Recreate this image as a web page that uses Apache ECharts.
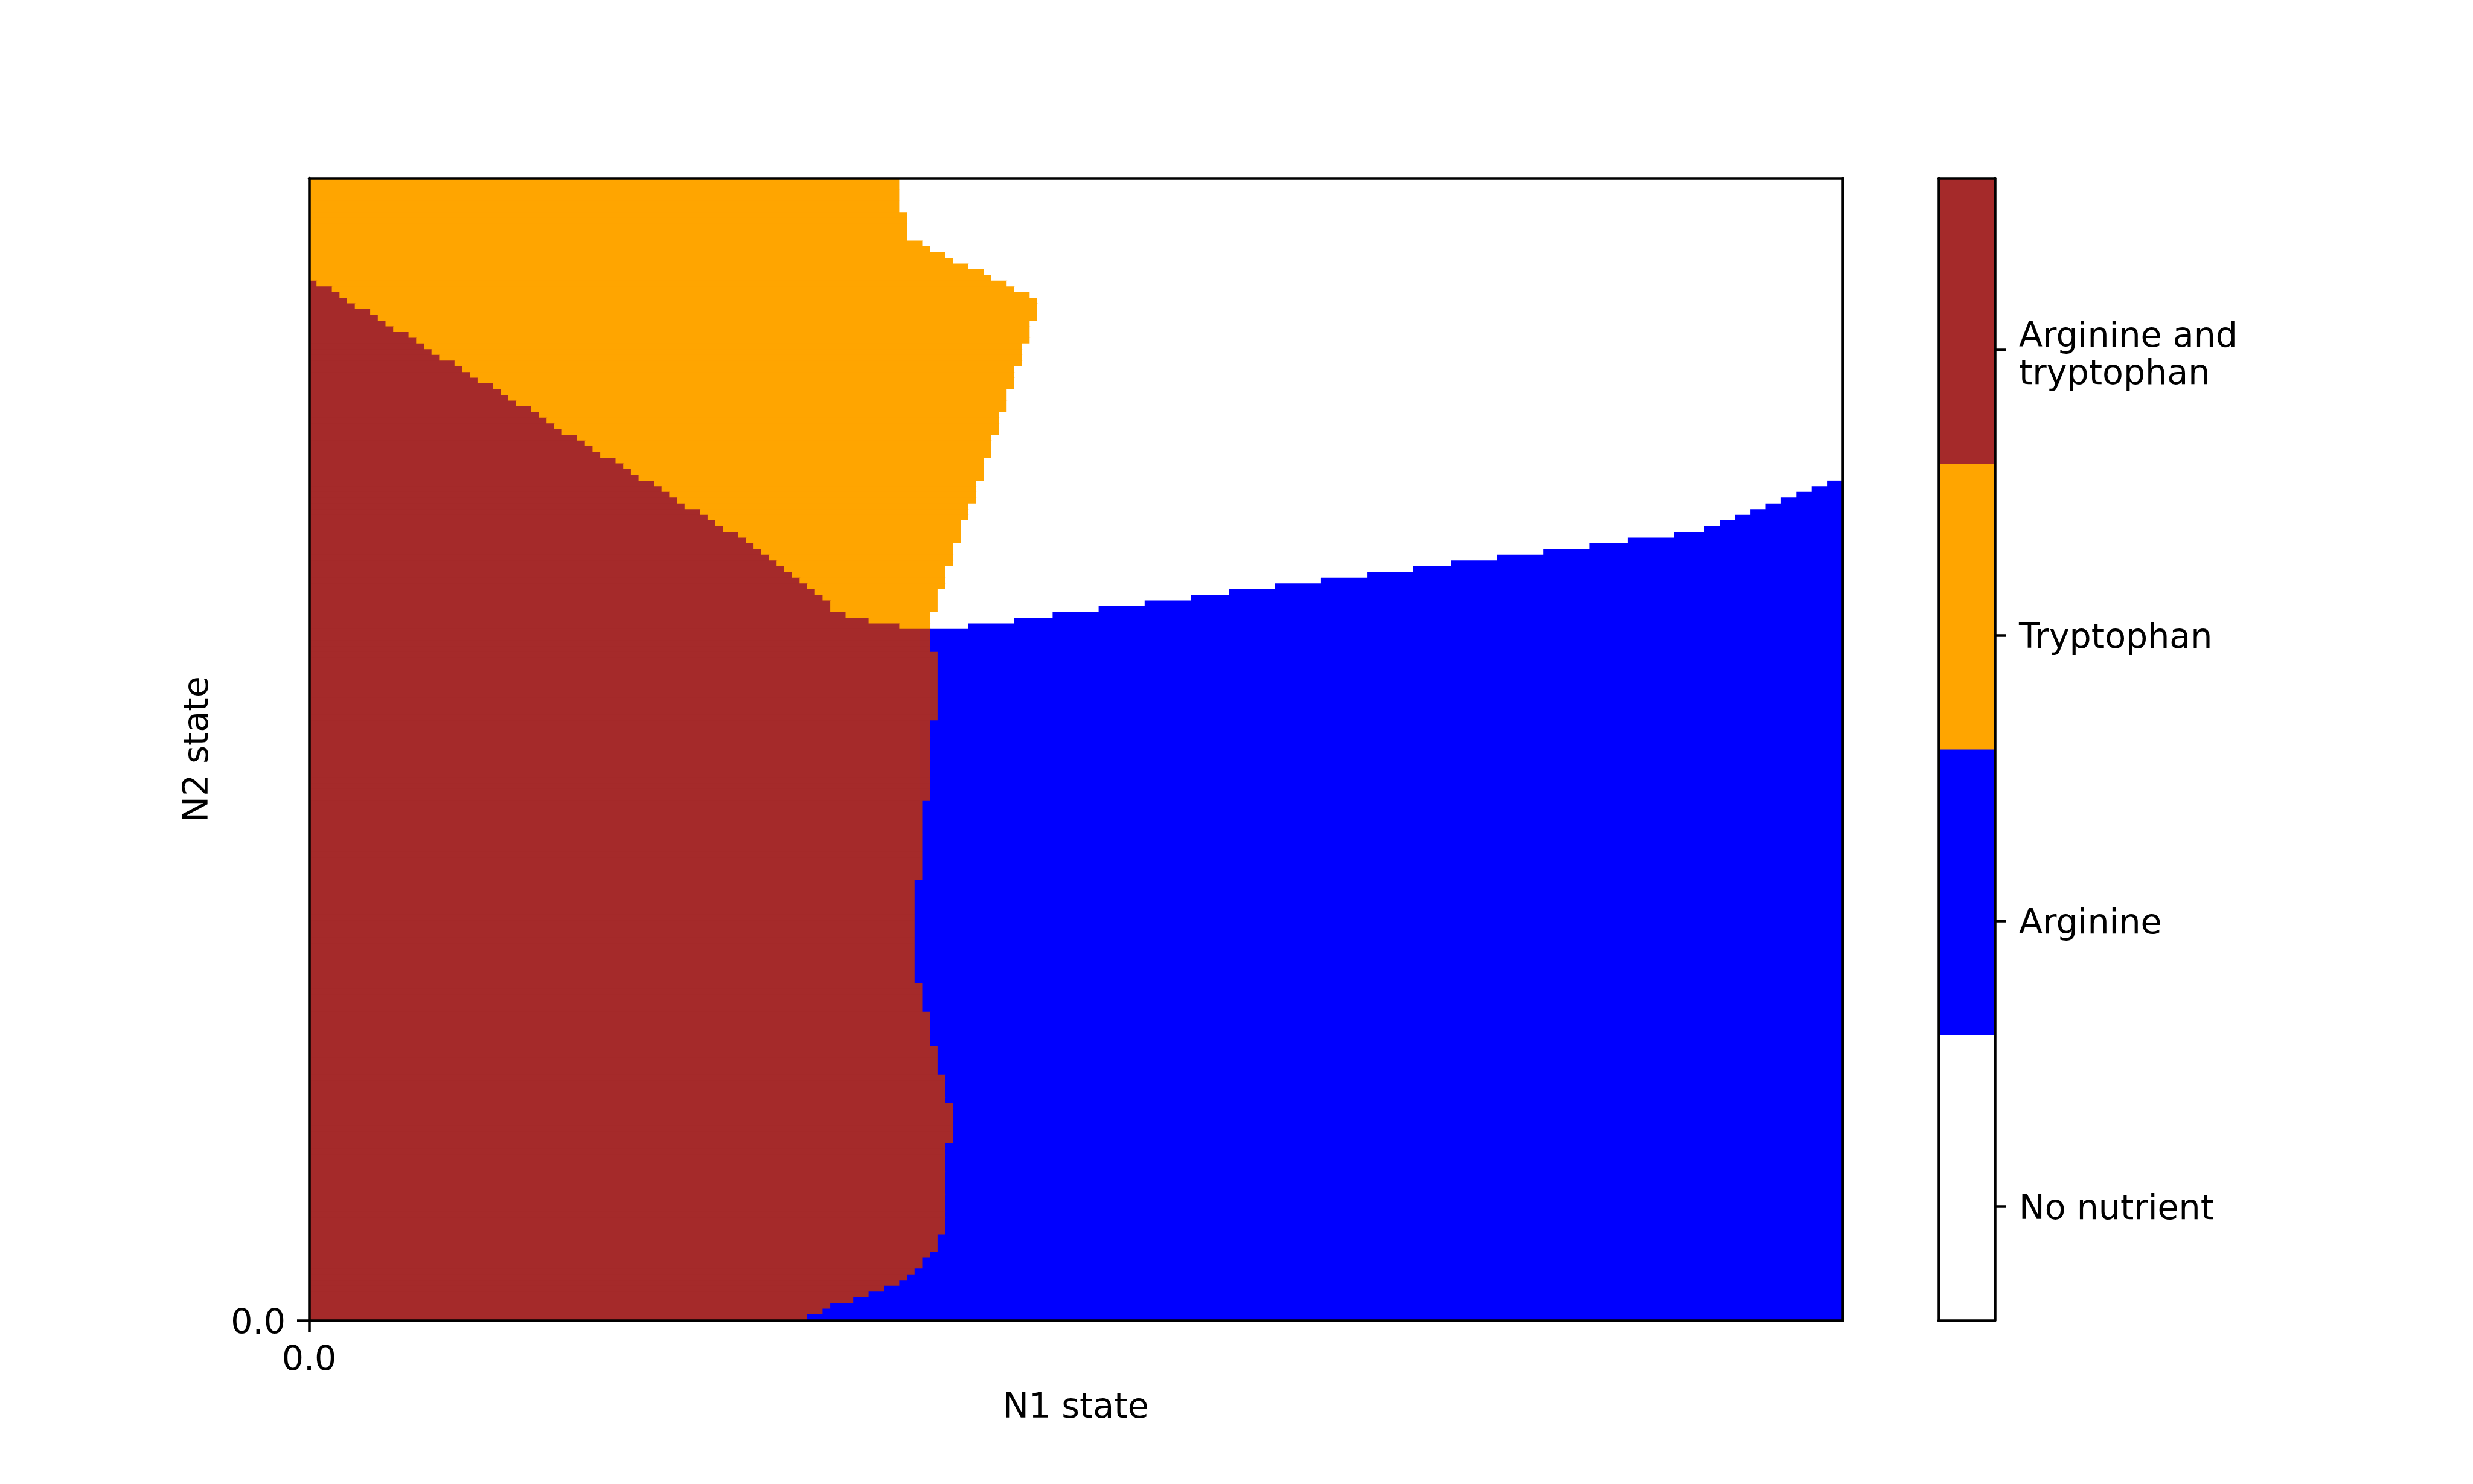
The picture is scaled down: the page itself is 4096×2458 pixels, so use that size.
<!DOCTYPE html>
<html>
<head>
<meta charset="utf-8">
<script src="https://cdn.jsdelivr.net/npm/echarts@6/dist/echarts.min.js"></script>
<style>
  html, body { margin: 0; padding: 0; background: #ffffff; }
  #chart { width: 4096px; height: 2458px; }
</style>
</head>
<body>
<div id="chart"></div>
<script>
// ---------------- data ----------------
// grid of states: 200 columns (N1) x 200 rows (N2); rows counted from the TOP (row 0 = highest N2)
const nCols = 200;
const nRows = 200;

// outcome categories (colour bar, bottom to top)
const categories = ['No nutrient', 'Arginine', 'Tryptophan', 'Arginine and\ntryptophan'];
const categoryColors = ['#ffffff', '#0000ff', '#ffa500', '#a52a2a'];
// colour-bar tick positions (segment i spans [i, i+1])
const colorbarTickValues = [0.4, 1.4, 2.4, 3.4];

// axis ticks
const xTickValues = [0];
const xTickLabels = ['0.0'];
const yTickValues = [0];
const yTickLabels = ['0.0'];

// brown ("Arginine and tryptophan") region: for rows [first, last], columns < value are brown
const brownEndRuns = [
  [0, 17, 0], [18, 18, 1], [19, 19, 3], [20, 20, 4], [21, 21, 5], [22, 22, 6], [23, 23, 8],
  [24, 24, 9], [25, 25, 10], [26, 26, 11], [27, 27, 13], [28, 28, 14], [29, 29, 15], [30, 30, 16],
  [31, 31, 17], [32, 32, 19], [33, 33, 20], [34, 34, 21], [35, 35, 22], [36, 36, 24], [37, 37, 25],
  [38, 38, 26], [39, 39, 27], [40, 40, 29], [41, 41, 30], [42, 42, 31], [43, 43, 32], [44, 44, 33],
  [45, 45, 35], [46, 46, 36], [47, 47, 37], [48, 48, 38], [49, 49, 40], [50, 50, 41], [51, 51, 42],
  [52, 52, 43], [53, 53, 45], [54, 54, 46], [55, 55, 47], [56, 56, 48], [57, 57, 49], [58, 58, 51],
  [59, 59, 52], [60, 60, 53], [61, 61, 54], [62, 62, 56], [63, 63, 57], [64, 64, 58], [65, 65, 59],
  [66, 66, 60], [67, 67, 61], [68, 68, 62], [69, 69, 63], [70, 70, 64], [71, 71, 65], [72, 72, 66],
  [73, 73, 67], [74, 75, 68], [76, 76, 70], [77, 77, 73], [78, 78, 77], [79, 82, 81], [83, 94, 82],
  [95, 108, 81], [109, 122, 80], [123, 140, 79], [141, 145, 80], [146, 151, 81], [152, 156, 82],
  [157, 161, 83], [162, 168, 84], [169, 184, 83], [185, 187, 82], [188, 188, 81], [189, 190, 80],
  [191, 191, 79], [192, 192, 78], [193, 193, 77], [194, 194, 75], [195, 195, 73], [196, 196, 71],
  [197, 197, 68], [198, 198, 67], [199, 199, 65]
];

// orange ("Tryptophan") region: for rows [first, last], columns < value (and past brown) are orange
const orangeEndRuns = [
  [0, 5, 77], [6, 10, 78], [11, 11, 80], [12, 12, 81], [13, 13, 83], [14, 14, 84], [15, 15, 86],
  [16, 16, 88], [17, 17, 89], [18, 18, 91], [19, 19, 92], [20, 20, 94], [21, 24, 95], [25, 28, 94],
  [29, 32, 93], [33, 36, 92], [37, 40, 91], [41, 44, 90], [45, 48, 89], [49, 52, 88], [53, 56, 87],
  [57, 59, 86], [60, 63, 85], [64, 67, 84], [68, 71, 83], [72, 75, 82], [76, 78, 81]
];

// blue ("Arginine") region: for columns [first, last], rows >= value (from top) are blue
const blueTopRuns = [
  [0, 85, 79], [86, 91, 78], [92, 96, 77], [97, 102, 76], [103, 108, 75], [109, 114, 74],
  [115, 119, 73], [120, 125, 72], [126, 131, 71], [132, 137, 70], [138, 143, 69], [144, 148, 68],
  [149, 154, 67], [155, 160, 66], [161, 166, 65], [167, 171, 64], [172, 177, 63], [178, 181, 62],
  [182, 183, 61], [184, 185, 60], [186, 187, 59], [188, 189, 58], [190, 191, 57], [192, 193, 56],
  [194, 195, 55], [196, 197, 54], [198, 199, 53]
];

// ---------------- build cells from the boundaries ----------------
function expandRuns(runs, n, fill) {
  const a = new Array(n).fill(fill);
  runs.forEach(([s, e, v]) => { for (let k = s; k <= e; k++) a[k] = v; });
  return a;
}
const brownEnd = expandRuns(brownEndRuns, nRows, 0);
const orangeEnd = expandRuns(orangeEndRuns, nRows, null);
const blueTop = expandRuns(blueTopRuns, nCols, nRows);

function cellCategory(r, c) {
  if (c < brownEnd[r]) return 3;
  if (orangeEnd[r] !== null && c < orangeEnd[r]) return 2;
  if (r >= blueTop[c]) return 1;
  return 0;
}

// merge equal neighbouring cells of a row into one run: [x0, x1, yBottom, yTop, category]
const cellRuns = [];
for (let r = 0; r < nRows; r++) {
  let start = 0;
  let cat = cellCategory(r, 0);
  for (let c = 1; c <= nCols; c++) {
    const cc = c < nCols ? cellCategory(r, c) : -1;
    if (cc !== cat) {
      cellRuns.push([start, c, nRows - 1 - r, nRows - r, cat]);
      start = c;
      cat = cc;
    }
  }
}
// colour-bar segments: [x0, x1, yBottom, yTop, category]
const colorbarSegments = categories.map((c, i) => [0, 1, i, i + 1, i]);

// ---------------- chart ----------------
const FONT = 'DejaVu Sans';
const FS = 57;
const LW = 4.5;
const black = '#000000';
const GRID_H = 1892;

// small downward nudges (px) of the colour-bar label text relative to its tick (matplotlib text centring)
const cbLabelNudgePx = [6, 6, 6, 11];
const segPx = GRID_H / categories.length;
const cbLabelValues = colorbarTickValues.map((v, i) => v - cbLabelNudgePx[i] / segPx);

const chart = echarts.init(document.getElementById('chart'), null, { renderer: 'canvas' });

const frameAxis = (gridIndex, position, type, extra) => Object.assign({
  gridIndex, position, type, z: 10,
  axisLine: { show: true, onZero: false, lineStyle: { color: black, width: LW } },
  axisTick: { show: false }, axisLabel: { show: false }, splitLine: { show: false }
}, extra || {});

function rectItem(params, api) {
  const p0 = api.coord([api.value(0), api.value(3)]);
  const p1 = api.coord([api.value(1), api.value(2)]);
  return {
    type: 'rect',
    shape: { x: p0[0] - 0.5, y: p0[1] - 0.5, width: p1[0] - p0[0] + 1, height: p1[1] - p0[1] + 1 },
    style: { fill: categoryColors[api.value(4)] }
  };
}

const option = {
  backgroundColor: '#ffffff',
  animation: false,
  textStyle: { fontFamily: FONT },
  grid: [
    { left: 512, top: 295, width: 2540, height: GRID_H, containLabel: false },
    { left: 3211, top: 295, width: 93, height: GRID_H, containLabel: false }
  ],
  xAxis: [
    {
      gridIndex: 0, type: 'value', min: 0, max: nCols, position: 'bottom', z: 10,
      axisLine: { show: true, onZero: false, lineStyle: { color: black, width: LW } },
      axisTick: { show: true, customValues: xTickValues, length: 20, lineStyle: { color: black, width: LW } },
      axisLabel: {
        show: true, customValues: xTickValues, margin: 40,
        formatter: (v) => xTickLabels[xTickValues.indexOf(v)] ?? '',
        fontSize: FS, color: black, fontFamily: FONT
      },
      splitLine: { show: false },
      name: 'N1 state', nameLocation: 'middle', nameGap: 118,
      nameTextStyle: { fontSize: FS, color: black, fontFamily: FONT }
    },
    frameAxis(0, 'top', 'value', { min: 0, max: nCols }),
    frameAxis(1, 'bottom', 'value', { min: 0, max: 1 }),
    frameAxis(1, 'top', 'value', { min: 0, max: 1 })
  ],
  yAxis: [
    {
      gridIndex: 0, type: 'value', min: 0, max: nRows, position: 'left', z: 10,
      axisLine: { show: true, onZero: false, lineStyle: { color: black, width: LW } },
      axisTick: { show: true, customValues: yTickValues, length: 20, lineStyle: { color: black, width: LW } },
      axisLabel: {
        show: true, customValues: yTickValues, margin: 39,
        verticalAlign: 'top', lineHeight: 14,
        formatter: (v) => yTickLabels[yTickValues.indexOf(v)] ?? '',
        fontSize: FS, color: black, fontFamily: FONT
      },
      splitLine: { show: false },
      name: 'N2 state', nameLocation: 'middle', nameGap: 154,
      nameTextStyle: { fontSize: FS, color: black, fontFamily: FONT }
    },
    frameAxis(0, 'right', 'value', { min: 0, max: nRows }),
    {
      gridIndex: 1, type: 'value', min: 0, max: categories.length, position: 'right', z: 10,
      axisLine: { show: true, onZero: false, lineStyle: { color: black, width: LW } },
      axisTick: { show: true, customValues: colorbarTickValues, length: 19, lineStyle: { color: black, width: LW } },
      axisLabel: {
        show: true, customValues: cbLabelValues, margin: 40, fontSize: FS, lineHeight: 62,
        formatter: (v) => categories[cbLabelValues.indexOf(v)] ?? '',
        color: black, fontFamily: FONT, align: 'left'
      },
      splitLine: { show: false }
    },
    frameAxis(1, 'left', 'value', { min: 0, max: categories.length })
  ],
  series: [
    {
      type: 'custom',
      xAxisIndex: 0, yAxisIndex: 0,
      clip: true,
      silent: true,
      encode: { x: [0, 1], y: [2, 3] },
      data: cellRuns,
      renderItem: rectItem
    },
    {
      type: 'custom',
      xAxisIndex: 2, yAxisIndex: 2,
      clip: true,
      silent: true,
      encode: { x: [0, 1], y: [2, 3] },
      data: colorbarSegments,
      renderItem: rectItem
    }
  ]
};

chart.setOption(option);
</script>
</body>
</html>
